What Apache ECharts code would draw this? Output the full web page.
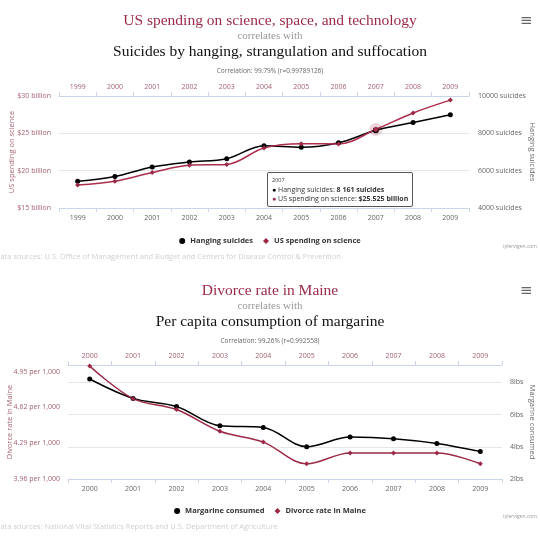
<!DOCTYPE html>
<html>
<head>
<meta charset="utf-8">
<script src="https://cdn.jsdelivr.net/npm/echarts@6/dist/echarts.min.js"></script>
<style>
html,body{margin:0;padding:0;background:#fff;}
#c1,#c2{position:absolute;left:0;width:540px;height:270px;}
#c1{top:0;} #c2{top:270px;}
</style>
</head>
<body>
<div id="c1"></div>
<div id="c2"></div>
<script>
// ---- Chart 1 data ----
const years1 = ['1999','2000','2001','2002','2003','2004','2005','2006','2007','2008','2009'];
const hangingSuicides = [5427, 5688, 6198, 6462, 6635, 7336, 7248, 7491, 8161, 8578, 9000];
const usSpending = [18.079, 18.594, 19.753, 20.734, 20.831, 23.029, 23.597, 23.584, 25.525, 27.731, 29.449];
const highlightIndex1 = 8;

// ---- Chart 2 data ----
const years2 = ['2000','2001','2002','2003','2004','2005','2006','2007','2008','2009'];
const margarine = [8.2, 7.0, 6.5, 5.3, 5.2, 4.0, 4.6, 4.5, 4.2, 3.7];
const divorceRate = [5.0, 4.7, 4.6, 4.4, 4.3, 4.1, 4.2, 4.2, 4.2, 4.1];

const CRIM = '#9c2a46';
const CRIM_SOFT = '#a4606f';
const GRAY = '#666666';
const AXIS = '#ccd6eb';
const SANS = 'Open Sans';
const SERIF = 'Liberation Serif';

function titles(t1, t2, corr) {
  return [
    {text: t1, left: 'center', top: 8, textStyle: {fontFamily: SERIF, fontSize: 15.5, fontWeight: 'normal', color: CRIM}},
    {text: 'correlates with', left: 'center', top: 26, textStyle: {fontFamily: SERIF, fontSize: 11, fontWeight: 'normal', color: '#999'}},
    {text: t2, left: 'center', top: 39, textStyle: {fontFamily: SERIF, fontSize: 15.5, fontWeight: 'normal', color: '#111'}},
    {text: corr, left: 'center', top: 63, textStyle: {fontFamily: SANS, fontSize: 6.5, fontWeight: 'normal', color: GRAY}},
    {text: '\u2261', left: 515, top: 9, textStyle: {fontFamily: 'DejaVu Sans', fontSize: 15, fontWeight: 'normal', color: '#666'}}
  ];
}

function xAxes(years) {
  const base = {
    type: 'category', data: years, boundaryGap: true,
    axisLine: {show: true, lineStyle: {color: AXIS}},
    axisTick: {show: true, length: 4, lineStyle: {color: AXIS}},
    splitLine: {show: false}
  };
  return [
    Object.assign({}, base, {position: 'bottom', axisLabel: {color: GRAY, fontFamily: SANS, fontSize: 7, margin: 6}}),
    Object.assign({}, base, {position: 'top', axisLabel: {color: CRIM_SOFT, fontFamily: SANS, fontSize: 7, margin: 6}})
  ];
}

function legend(names) {
  return {
    data: [{name: names[0], icon: 'circle'}, {name: names[1], icon: 'diamond'}],
    left: 'center', top: 232, itemWidth: 6, itemHeight: 6, itemGap: 10,
    textStyle: {fontFamily: SANS, fontSize: 7.5, fontWeight: 'bold', color: '#333'}
  };
}

function footer(src) {
  return [
    {type: 'text', right: 3, top: 244, style: {text: 'tylervigen.com', font: '5px ' + SANS, fill: '#999'}},
    {type: 'text', left: -5, top: 253, style: {text: src, font: '7.5px ' + SANS, fill: '#cfcfcf'}}
  ];
}

// ---- Chart 1 ----
const chart1 = echarts.init(document.getElementById('c1'), null, {renderer: 'canvas'});
chart1.setOption({
  animation: false,
  backgroundColor: '#fff',
  title: titles('US spending on science, space, and technology',
                 'Suicides by hanging, strangulation and suffocation',
                 'Correlation: 99.79% (r=0.99789126)'),
  grid: {left: 59, top: 96, width: 410, height: 112, containLabel: false, outerBoundsMode: 'none'},
  legend: legend(['Hanging suicides', 'US spending on science']),
  graphic: footer('Data sources: U.S. Office of Management and Budget and Centers for Disease Control & Prevention'),
  xAxis: xAxes(years1),
  yAxis: [
    {type: 'value', position: 'left', min: 15, max: 30, interval: 5,
     axisLine: {show: false}, axisTick: {show: false},
     splitLine: {show: true, lineStyle: {color: '#e6e6e6'}},
     axisLabel: {formatter: v => '$' + v + ' billion', color: CRIM_SOFT, fontFamily: SANS, fontSize: 7, margin: 8},
     name: 'US spending on science', nameLocation: 'middle', nameGap: 43, nameRotate: 90, nameMoveOverlap: false,
     nameTextStyle: {color: CRIM_SOFT, fontFamily: SANS, fontSize: 7.5}},
    {type: 'value', position: 'right', min: 4000, max: 10000, interval: 2000,
     axisLine: {show: false}, axisTick: {show: false}, splitLine: {show: false},
     axisLabel: {formatter: v => v + ' suicides', color: GRAY, fontFamily: SANS, fontSize: 7, margin: 9},
     name: 'Hanging suicides', nameLocation: 'middle', nameGap: 59, nameRotate: -90, nameMoveOverlap: false,
     nameTextStyle: {color: GRAY, fontFamily: SANS, fontSize: 7.5}}
  ],
  tooltip: {
    trigger: 'axis', axisPointer: {type: 'none'}, alwaysShowContent: true, transitionDuration: 0,
    position: [267, 172], padding: [3, 4],
    backgroundColor: 'rgba(255,255,255,0.92)', borderColor: '#555', borderWidth: 1, borderRadius: 2,
    extraCssText: 'box-shadow:none;line-height:9px;',
    formatter: function (params) {
      const i = params[0].dataIndex;
      return '<div style="font-family:Open Sans;font-size:5.5px;color:#333">' + years1[i] + '</div>' +
        '<div style="font-family:Open Sans;font-size:7px;color:#333"><span style="color:#000">\u25CF</span> Hanging suicides: <b>' +
        String(hangingSuicides[i]).replace(/\B(?=(\d{3})+(?!\d))/g, ' ') + ' suicides</b></div>' +
        '<div style="font-family:Open Sans;font-size:7px;color:#333"><span style="color:' + CRIM + '">\u25CF</span> US spending on science: <b>$' +
        usSpending[i].toFixed(3) + ' billion</b></div>';
    }
  },
  series: [
    {name: 'Hanging suicides', type: 'line', yAxisIndex: 1, data: hangingSuicides, smooth: 0.35,
     symbol: 'circle', symbolSize: 5, itemStyle: {color: '#000'}, lineStyle: {color: '#000', width: 1.5}},
    {name: 'US spending on science', type: 'line', yAxisIndex: 0, data: usSpending, smooth: 0.35,
     symbol: 'diamond', symbolSize: 5, itemStyle: {color: CRIM}, lineStyle: {color: CRIM, width: 1.5}},
    {name: 'halo', type: 'scatter', yAxisIndex: 0, silent: true, z: 1,
     data: [[years1[highlightIndex1], usSpending[highlightIndex1]]],
     symbolSize: 13, itemStyle: {color: 'rgba(156,42,70,0.25)'}, tooltip: {show: false}}
  ]
});
chart1.dispatchAction({type: 'showTip', seriesIndex: 0, dataIndex: highlightIndex1});

// ---- Chart 2 ----
const chart2 = echarts.init(document.getElementById('c2'), null, {renderer: 'canvas'});
chart2.setOption({
  animation: false,
  backgroundColor: '#fff',
  title: titles('Divorce rate in Maine',
                'Per capita consumption of margarine',
                'Correlation: 99.26% (r=0.992558)'),
  grid: {left: 68, top: 95, width: 434, height: 114, containLabel: false, outerBoundsMode: 'none'},
  legend: legend(['Margarine consumed', 'Divorce rate in Maine']),
  graphic: footer('Data sources: National Vital Statistics Reports and U.S. Department of Agriculture'),
  xAxis: xAxes(years2),
  yAxis: [
    {type: 'value', position: 'left', min: 3.96, max: 5.01, interval: 0.33,
     axisLine: {show: false}, axisTick: {show: false}, splitLine: {show: false},
     axisLabel: {formatter: v => v.toFixed(2) + ' per 1,000', color: CRIM_SOFT, fontFamily: SANS, fontSize: 7, margin: 8, showMaxLabel: false},
     name: 'Divorce rate in Maine', nameLocation: 'middle', nameGap: 54, nameRotate: 90, nameMoveOverlap: false,
     nameTextStyle: {color: CRIM_SOFT, fontFamily: SANS, fontSize: 7.5}},
    {type: 'value', position: 'right', min: 2, max: 9.07, interval: 2,
     axisLine: {show: false}, axisTick: {show: false},
     splitLine: {show: true, lineStyle: {color: '#e6e6e6'}},
     axisLabel: {formatter: v => v + 'lbs', color: GRAY, fontFamily: SANS, fontSize: 7, margin: 8, showMaxLabel: false},
     name: 'Margarine consumed', nameLocation: 'middle', nameGap: 26, nameRotate: -90, nameMoveOverlap: false,
     nameTextStyle: {color: GRAY, fontFamily: SANS, fontSize: 7.5}}
  ],
  series: [
    {name: 'Margarine consumed', type: 'line', yAxisIndex: 1, data: margarine, smooth: 0.35,
     symbol: 'circle', symbolSize: 5, itemStyle: {color: '#000'}, lineStyle: {color: '#000', width: 1.5}},
    {name: 'Divorce rate in Maine', type: 'line', yAxisIndex: 0, data: divorceRate, smooth: 0.35,
     symbol: 'diamond', symbolSize: 5, itemStyle: {color: CRIM}, lineStyle: {color: CRIM, width: 1.5}}
  ]
});
</script>
</body>
</html>
